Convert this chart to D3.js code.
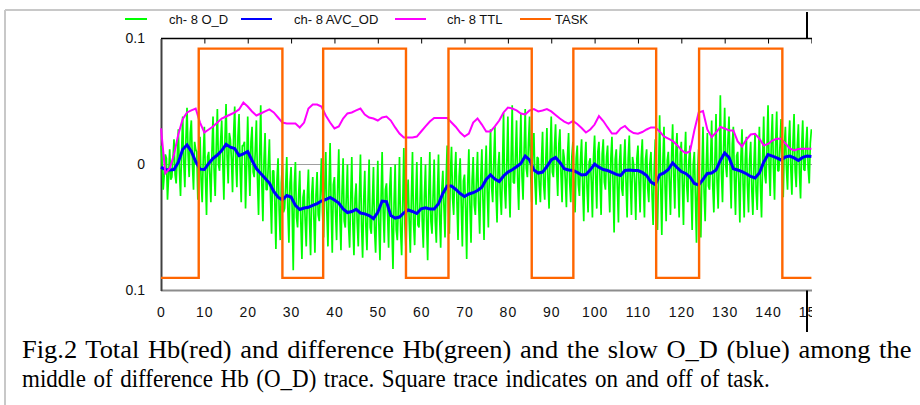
<!DOCTYPE html>
<html>
<head>
<meta charset="utf-8">
<script src="https://cdn.jsdelivr.net/npm/d3@7"></script>
<style>
  body { margin: 0; background: #fff; }
  svg { display: block; }
</style>
</head>
<body>
<svg id="chart" width="920" height="405"></svg>
<script>
// ---- data ----
var SERIES_NAMES = ["ch- 8 O_D", "ch- 8 AVC_OD", "ch- 8 TTL", "TASK"];
var X_TICKS = [0, 10, 20, 30, 40, 50, 60, 70, 80, 90, 100, 110, 120, 130, 140, 150];
var Y_TICK_VALUES = [0.1, 0, -0.1];
var Y_TICK_LABELS = ["0.1", "0", "0.1"];

var OD_STEP = 0.25;  // raw trace sampled every 0.25
var SLOW_STEP = 1;   // smoothed / total traces every 1

// raw O_D (green), 4 samples per unit
var O_D = [
  0.015, 0.002,-0.020,-0.008,  0.008, 0.005,-0.028,-0.010,
  0.012,-0.012,-0.010, 0.004,  0.020,-0.008,-0.015, 0.006,
  0.028,-0.005,-0.025, 0.010,  0.038, 0.002,-0.018, 0.020,
  0.045, 0.008,-0.010, 0.025,  0.035, 0.000,-0.020, 0.018,
  0.012, 0.010,-0.028,-0.005,  0.022,-0.012,-0.030, 0.005,
  0.030,-0.010,-0.040, 0.006,  0.010,-0.008,-0.030, 0.010,
  0.038,-0.005,-0.025, 0.014,  0.044, 0.000,-0.005, 0.018,
  0.035, 0.002,-0.028, 0.020,  0.048, 0.006,-0.015, 0.025,
  0.020, 0.004,-0.022, 0.024,  0.046, 0.002,-0.018, 0.022,
  0.040,-0.003,-0.030, 0.015,  0.015, 0.018,-0.035, 0.000,
  0.038, 0.000,-0.025, 0.018,  0.030,-0.006,-0.010, 0.012,
  0.035,-0.012,-0.040, 0.006,  0.047,-0.015,-0.045, 0.003,
  0.025,-0.020,-0.020, 0.000,  0.020,-0.025,-0.055,-0.005,
 -0.005,-0.030,-0.067,-0.012,  0.005,-0.036,-0.060,-0.015,
  0.000,-0.038,-0.035,-0.018,  0.006,-0.035,-0.062,-0.015,
 -0.002,-0.036,-0.084,-0.016,  0.002,-0.042,-0.050,-0.024,
 -0.005,-0.046,-0.075,-0.026, -0.020,-0.044,-0.065,-0.025,
 -0.004,-0.044,-0.072,-0.024, -0.010,-0.042,-0.070,-0.024,
 -0.006,-0.040,-0.045,-0.022,  0.005,-0.038,-0.058,-0.020,
  0.010,-0.038,-0.065,-0.018,  0.017,-0.036,-0.070,-0.016,
 -0.010,-0.038,-0.060,-0.018,  0.012,-0.040,-0.068,-0.022,
  0.005,-0.045,-0.050,-0.025,  0.000,-0.048,-0.066,-0.028,
  0.006,-0.047,-0.072,-0.027, -0.015,-0.046,-0.065,-0.026,
  0.008,-0.048,-0.074,-0.029, -0.005,-0.049,-0.068,-0.029,
  0.004,-0.050,-0.055,-0.031, -0.002,-0.052,-0.070,-0.033,
  0.003,-0.048,-0.076,-0.028,  0.010,-0.038,-0.062,-0.020,
 -0.015,-0.039,-0.066,-0.019, -0.002,-0.050,-0.083,-0.031,
  0.000,-0.052,-0.060,-0.033,  0.006,-0.052,-0.072,-0.032,
  0.013,-0.048,-0.068,-0.029, -0.012,-0.046,-0.070,-0.026,
  0.010,-0.047,-0.064,-0.027,  0.002,-0.048,-0.050,-0.029,
  0.006,-0.045,-0.066,-0.025,  0.000,-0.044,-0.076,-0.024,
  0.010,-0.045,-0.055,-0.025,  0.004,-0.045,-0.062,-0.025,
  0.008,-0.041,-0.066,-0.021, -0.005,-0.033,-0.058,-0.013,
  0.015,-0.027,-0.055,-0.007,  0.014,-0.027,-0.040,-0.007,
  0.010,-0.030,-0.060,-0.010,  0.005,-0.033,-0.065,-0.013,
 -0.008,-0.035,-0.075,-0.015,  0.012,-0.033,-0.062,-0.013,
  0.006,-0.032,-0.040,-0.012,  0.010,-0.031,-0.055,-0.011,
  0.012,-0.028,-0.060,-0.008,  0.015,-0.022,-0.050,-0.002,
  0.028,-0.018,-0.030, 0.002,  0.030,-0.022,-0.046,-0.002,
  0.010,-0.024,-0.040,-0.004,  0.041,-0.019,-0.035, 0.001,
  0.038,-0.016,-0.042, 0.004,  0.047,-0.014,-0.015, 0.006,
  0.035,-0.012,-0.036, 0.008,  0.040,-0.009,-0.028, 0.011,
  0.044,-0.003,-0.010, 0.017,  0.038,-0.006,-0.030, 0.014,
  0.025,-0.014,-0.032, 0.006,  0.005,-0.017,-0.030, 0.003,
  0.026,-0.016,-0.028, 0.004,  0.029,-0.012,-0.035, 0.008,
  0.038,-0.006,-0.010, 0.014,  0.032,-0.004,-0.025, 0.016,
  0.028,-0.008,-0.030, 0.012,  0.005,-0.013,-0.034, 0.007,
  0.025,-0.014,-0.030, 0.006,  0.018,-0.015,-0.038, 0.005,
  0.015,-0.016,-0.025, 0.004,  0.020,-0.018,-0.045, 0.002,
  0.018,-0.018,-0.038, 0.002,  0.005,-0.014,-0.042, 0.006,
  0.023,-0.010,-0.035, 0.010,  0.018,-0.012,-0.040, 0.008,
  0.020,-0.014,-0.020, 0.006,  0.015,-0.015,-0.038, 0.005,
  0.022,-0.016,-0.054, 0.004,  0.012,-0.018,-0.046, 0.002,
  0.016,-0.019,-0.025, 0.001,  0.020,-0.015,-0.042, 0.005,
  0.023,-0.014,-0.040, 0.006,  0.000,-0.015,-0.044, 0.005,
  0.015,-0.015,-0.038, 0.005,  0.020,-0.016,-0.042, 0.004,
  0.012,-0.019,-0.030, 0.001,  0.010,-0.024,-0.048,-0.004,
  0.020,-0.026,-0.052,-0.006,  0.039,-0.018,-0.056, 0.002,
  0.030,-0.017,-0.045, 0.003,  0.010,-0.014,-0.040, 0.006,
  0.032,-0.009,-0.035, 0.011,  0.025,-0.012,-0.042, 0.008,
  0.018,-0.016,-0.048, 0.004,  0.026,-0.017,-0.030, 0.003,
  0.015,-0.020,-0.052, 0.000,  0.010,-0.025,-0.062,-0.005,
  0.012,-0.026,-0.058,-0.006,  0.030,-0.022,-0.045,-0.002,
  0.025,-0.017,-0.020, 0.003,  0.035,-0.017,-0.038, 0.003,
  0.040,-0.014,-0.035, 0.006,  0.055,-0.007,-0.030, 0.013,
  0.045,-0.001,-0.010, 0.019,  0.038,-0.004,-0.035, 0.016,
  0.030,-0.013,-0.040, 0.007,  0.010,-0.014,-0.046, 0.006,
  0.028,-0.016,-0.042, 0.004,  0.022,-0.017,-0.038, 0.003,
  0.018,-0.020,-0.040, 0.000,  0.025,-0.021,-0.036,-0.001,
  0.030,-0.017,-0.042, 0.003,  0.038,-0.008,-0.015, 0.012,
  0.047,-0.002,-0.025, 0.018,  0.040,-0.003,-0.028, 0.017,
  0.042,-0.005,-0.005, 0.015,  0.036,-0.006,-0.026, 0.014,
  0.030,-0.004,-0.020, 0.016,  0.035,-0.003,-0.024, 0.017,
  0.040,-0.005,-0.018, 0.015,  0.032,-0.007,-0.027, 0.013,
  0.035,-0.004,-0.005, 0.016,  0.030,-0.003,-0.015, 0.017,
  0.028
];

// slow O_D (blue)
var AVC_OD = [
 -0.0021,-0.0040,-0.0044,-0.0040, 0.0018, 0.0119, 0.0156, 0.0103, 0.0024,-0.0037,
 -0.0040, 0.0008, 0.0048, 0.0075, 0.0111, 0.0160, 0.0137, 0.0127, 0.0071, 0.0085,
  0.0103, 0.0032,-0.0032,-0.0071,-0.0109,-0.0147,-0.0214,-0.0259,-0.0282,-0.0246,
 -0.0258,-0.0325,-0.0357,-0.0345,-0.0340,-0.0325,-0.0310,-0.0290,-0.0278,-0.0262,
 -0.0282,-0.0306,-0.0353,-0.0381,-0.0373,-0.0356,-0.0385,-0.0392,-0.0405,-0.0429,
 -0.0379,-0.0290,-0.0294,-0.0405,-0.0425,-0.0417,-0.0385,-0.0361,-0.0373,-0.0389,
 -0.0352,-0.0344,-0.0353,-0.0353,-0.0312,-0.0230,-0.0171,-0.0171,-0.0198,-0.0230,
 -0.0254,-0.0234,-0.0224,-0.0206,-0.0180,-0.0119,-0.0083,-0.0115,-0.0135,-0.0091,
 -0.0060,-0.0042,-0.0018, 0.0008, 0.0067, 0.0036,-0.0044,-0.0068,-0.0060,-0.0016,
  0.0036, 0.0056, 0.0016,-0.0034,-0.0044,-0.0048,-0.0063,-0.0083,-0.0079,-0.0042,
  0.0003,-0.0021,-0.0040,-0.0048,-0.0063,-0.0078,-0.0087,-0.0048,-0.0044,-0.0048,
 -0.0048,-0.0063,-0.0087,-0.0139,-0.0159,-0.0083,-0.0067,-0.0040, 0.0012,-0.0024,
 -0.0056,-0.0071,-0.0099,-0.0151,-0.0163,-0.0119,-0.0071,-0.0067,-0.0044, 0.0032,
  0.0091, 0.0056,-0.0034,-0.0044,-0.0056,-0.0073,-0.0095,-0.0107,-0.0067, 0.0018,
  0.0079, 0.0067, 0.0053, 0.0036, 0.0060, 0.0067, 0.0052, 0.0032, 0.0056, 0.0067,
  0.0063
];

// total Hb (magenta)
var TTL = [
  0.0286,-0.0071,-0.0032, 0.0080, 0.0240, 0.0360, 0.0413, 0.0429, 0.0444, 0.0333,
  0.0254, 0.0278, 0.0302, 0.0333, 0.0365, 0.0381, 0.0397, 0.0413, 0.0437, 0.0492,
  0.0460, 0.0421, 0.0389, 0.0405, 0.0421, 0.0437, 0.0413, 0.0373, 0.0333, 0.0325,
  0.0325, 0.0325, 0.0294, 0.0333, 0.0444, 0.0476, 0.0476, 0.0460, 0.0389, 0.0333,
  0.0286, 0.0302, 0.0365, 0.0405, 0.0413, 0.0429, 0.0444, 0.0397, 0.0373, 0.0365,
  0.0349, 0.0373, 0.0381, 0.0349, 0.0294, 0.0246, 0.0214, 0.0214, 0.0214, 0.0222,
  0.0262, 0.0302, 0.0341, 0.0369, 0.0369, 0.0369, 0.0369, 0.0333, 0.0298, 0.0254,
  0.0222, 0.0246, 0.0333, 0.0365, 0.0317, 0.0262, 0.0262, 0.0302, 0.0349, 0.0413,
  0.0452, 0.0444, 0.0429, 0.0405, 0.0397, 0.0429, 0.0440, 0.0421, 0.0429, 0.0440,
  0.0421, 0.0393, 0.0365, 0.0341, 0.0325, 0.0345, 0.0321, 0.0290, 0.0254, 0.0278,
  0.0317, 0.0385, 0.0345, 0.0294, 0.0246, 0.0246, 0.0286, 0.0306, 0.0270, 0.0250,
  0.0244, 0.0258, 0.0278, 0.0294, 0.0294, 0.0262, 0.0222, 0.0206, 0.0187, 0.0155,
  0.0115, 0.0091, 0.0103, 0.0270, 0.0413, 0.0425, 0.0278, 0.0217, 0.0254, 0.0298,
  0.0286, 0.0270, 0.0270, 0.0183, 0.0143, 0.0198, 0.0238, 0.0244, 0.0206, 0.0151,
  0.0163, 0.0190, 0.0204, 0.0204, 0.0167, 0.0127, 0.0111, 0.0123, 0.0125, 0.0125,
  0.0125
];

// task on periods [start, end] and the square-wave levels
var TASK_ON = [[8.7, 28.0], [37.4, 56.5], [66.3, 85.5], [95.1, 114.2], [124.1, 143.3]];
var TASK_END = 150;
var TASK_HIGH = 0.092;
var TASK_LOW = -0.09;

var CAPTION_LINE1 = "Fig.2 Total Hb(red) and difference Hb(green) and the slow O_D (blue) among the";
var CAPTION_LINE2 = "middle of difference Hb (O_D) trace. Square trace indicates on and off of task.";

var COLORS = ["#00ff00", "#0000ff", "#ff00ff", "#ff6600"];

// ---- layout ----
var svg = d3.select("#chart");

var x = d3.scaleLinear().domain([0, 150]).range([161, 811.4]);
var y = d3.scaleLinear().domain([-0.1, 0.1]).range([290.5, 38.5]);

// page frame
svg.append("line").attr("x1", 5).attr("x2", 920).attr("y1", 10).attr("y2", 10)
    .attr("stroke", "#c8c8c8").attr("stroke-width", 2);
svg.append("line").attr("x1", 5).attr("x2", 5).attr("y1", 10).attr("y2", 405)
    .attr("stroke", "#c8c8c8").attr("stroke-width", 2);

svg.append("defs").append("clipPath").attr("id", "cut")
    .append("rect").attr("x", 0).attr("y", 0).attr("width", 812).attr("height", 405);

var g = svg.append("g").attr("clip-path", "url(#cut)");

// zero line
g.append("line")
    .attr("x1", x(0)).attr("x2", 812)
    .attr("y1", y(0)).attr("y2", y(0))
    .attr("stroke", "#a0a0a0").attr("stroke-width", 1);

// top frame line with inward ticks
var topAxis = g.append("g").attr("transform", "translate(0," + y(0.1) + ")")
    .call(d3.axisBottom(x).tickValues(X_TICKS).tickSize(5).tickSizeOuter(0).tickFormat(""));
topAxis.select(".domain").attr("d", "M" + x(0) + ",0H812").attr("stroke", "#000").attr("stroke-width", 1.5);
topAxis.selectAll(".tick line").attr("stroke", "#000").attr("stroke-width", 1);

// bottom axis with labels
var botAxis = g.append("g").attr("transform", "translate(0," + y(-0.1) + ")")
    .call(d3.axisBottom(x).tickValues(X_TICKS).tickSize(0).tickPadding(17));
botAxis.select(".domain").attr("d", "M" + x(0) + ",0H812").attr("stroke", "#8c8c8c").attr("stroke-width", 2);
botAxis.selectAll("text")
    .attr("font-family", "Liberation Sans, Arial, sans-serif")
    .attr("font-size", 14).attr("letter-spacing", 1).attr("fill", "#111");

// left axis
var leftAxis = g.append("g").attr("transform", "translate(" + x(0) + ",0)")
    .call(d3.axisLeft(y).tickValues(Y_TICK_VALUES).tickSize(0).tickPadding(16)
        .tickFormat(function(d, i){ return Y_TICK_LABELS[i]; }));
leftAxis.select(".domain").attr("stroke", "#404040").attr("stroke-width", 2);
leftAxis.selectAll("text")
    .attr("font-family", "Liberation Sans, Arial, sans-serif")
    .attr("font-size", 14).attr("fill", "#111");

// series
function trace(values, step){
    return d3.line()
        .x(function(d, i){ return x(i * step); })
        .y(function(d){ return y(d); })(values);
}

g.append("path").attr("d", trace(O_D, OD_STEP))
    .attr("fill", "none").attr("stroke", COLORS[0]).attr("stroke-width", 1.7)
    .attr("stroke-linejoin", "bevel");
g.append("path").attr("d", trace(AVC_OD, SLOW_STEP))
    .attr("fill", "none").attr("stroke", COLORS[1]).attr("stroke-width", 3);
g.append("path").attr("d", trace(TTL, SLOW_STEP))
    .attr("fill", "none").attr("stroke", COLORS[2]).attr("stroke-width", 2);

var taskPts = [[0, TASK_LOW]];
TASK_ON.forEach(function(p){
    taskPts.push([p[0], TASK_HIGH]);
    taskPts.push([p[1], TASK_LOW]);
});
taskPts.push([TASK_END, TASK_LOW]);
g.append("path")
    .attr("d", d3.line().curve(d3.curveStepAfter)
        .x(function(d){ return x(d[0]); })
        .y(function(d){ return y(d[1]); })(taskPts))
    .attr("fill", "none").attr("stroke", COLORS[3]).attr("stroke-width", 2.4);

// black divider line on the right
svg.append("line").attr("x1", 807).attr("x2", 807).attr("y1", 12).attr("y2", y(0.1))
    .attr("stroke", "#000").attr("stroke-width", 2);
svg.append("line").attr("x1", 807).attr("x2", 807).attr("y1", y(-0.1)).attr("y2", 332)
    .attr("stroke", "#000").attr("stroke-width", 2);

// legend
var LEGEND_POS = [
    {x1: 125, x2: 147, tx: 169},
    {x1: 241, x2: 272, tx: 294},
    {x1: 395, x2: 426, tx: 447},
    {x1: 520, x2: 551, tx: 555}
];
var legend = svg.append("g");
SERIES_NAMES.forEach(function(name, i){
    var p = LEGEND_POS[i];
    legend.append("line").attr("x1", p.x1).attr("x2", p.x2).attr("y1", 19).attr("y2", 19)
        .attr("stroke", COLORS[i]).attr("stroke-width", 2);
    legend.append("text").attr("x", p.tx).attr("y", 24)
        .attr("font-family", "Liberation Sans, Arial, sans-serif")
        .attr("font-size", 13).attr("fill", "#111")
        .text(name);
});

// caption: condensed serif, each line squeezed to its width in the figure
var capFont = 25.5;
function captionLine(txt, baseline, right){
    var t = svg.append("text")
        .attr("font-family", "Liberation Serif, Times New Roman, serif")
        .attr("font-size", capFont).attr("fill", "#000")
        .attr("word-spacing", 2)
        .text(txt);
    var w = t.node().getComputedTextLength();
    t.attr("transform", "translate(22," + baseline + ") scale(" + ((right - 22) / w) + ",1)");
}
captionLine(CAPTION_LINE1, 357.5, 912);
captionLine(CAPTION_LINE2, 387, 770);
</script>
</body>
</html>
